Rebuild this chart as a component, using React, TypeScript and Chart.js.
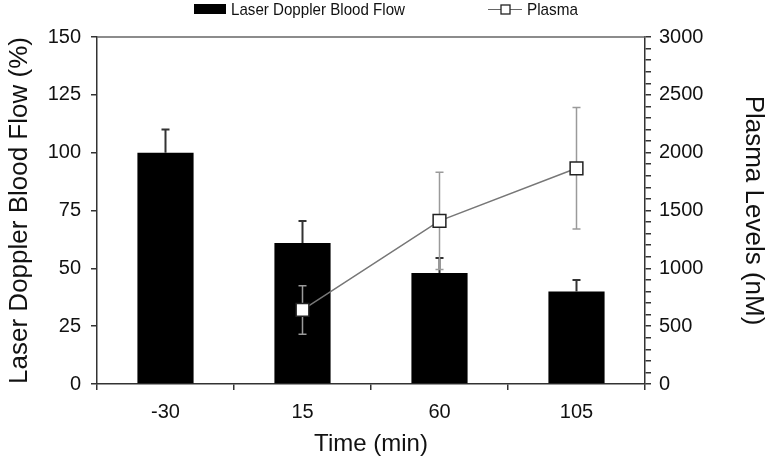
import React, { useEffect, useRef } from "react";
import { Chart, registerables } from "chart.js";

Chart.register(...registerables);

const categories = ["-30", "15", "60", "105"];
const flowValues = [100, 61, 48, 40];
const flowErrors = [10, 9.5, 6.5, 5];
const plasmaValues: (number | null)[] = [null, 640, 1410, 1865];
const plasmaErrors: (number | null)[] = [null, 210, 420, 525];
const flowTickStep = 25;
const plasmaMinorStep = 100;
const plasmaMajorStep = 500;

const FONT = '"Liberation Sans", Arial, sans-serif';

function drawErrors(
  chart: any,
  dsIndex: number,
  scaleId: string,
  vals: (number | null)[],
  errs: (number | null)[],
  both: boolean,
  color: string,
  width: number,
  cap: number
) {
  const ctx = chart.ctx;
  const meta = chart.getDatasetMeta(dsIndex);
  const ys = chart.scales[scaleId];
  ctx.save();
  ctx.strokeStyle = color;
  ctx.lineWidth = width;
  vals.forEach((v, i) => {
    const e = errs[i];
    if (v == null || e == null) return;
    const x = meta.data[i].x;
    const top = ys.getPixelForValue(v + e);
    const bot = both ? ys.getPixelForValue(v - e) : ys.getPixelForValue(v);
    ctx.beginPath();
    ctx.moveTo(x, top);
    ctx.lineTo(x, bot);
    ctx.moveTo(x - cap, top);
    ctx.lineTo(x + cap, top);
    if (both) {
      ctx.moveTo(x - cap, bot);
      ctx.lineTo(x + cap, bot);
    }
    ctx.stroke();
  });
  ctx.restore();
}

const errorBarPlugin = {
  id: "errorBars",
  beforeDatasetDraw(chart: any, args: any) {
    if (args.index !== 1) return;
    drawErrors(chart, 1, "y1", plasmaValues, plasmaErrors, true, "#9a9a9a", 1.5, 4);
  },
  afterDatasetDraw(chart: any, args: any) {
    if (args.index !== 0) return;
    drawErrors(chart, 0, "y", flowValues, flowErrors, false, "#333", 2, 4);
  },
};

function narrowText(ctx: any, text: string, x: number, y: number, targetWidth: number) {
  const w = ctx.measureText(text).width;
  const k = Math.min(1, targetWidth / w);
  ctx.save();
  ctx.translate(x, y);
  ctx.scale(k, 1);
  ctx.fillText(text, 0, 0);
  ctx.restore();
}

const framePlugin = {
  id: "frameAndLegend",
  afterDraw(chart: any) {
    const ctx = chart.ctx;
    const a = chart.chartArea;
    ctx.save();
    // top frame line
    ctx.strokeStyle = "#666";
    ctx.lineWidth = 1.5;
    ctx.beginPath();
    ctx.moveTo(a.left, a.top);
    ctx.lineTo(a.right, a.top);
    ctx.stroke();

    // legend
    ctx.fillStyle = "#000";
    ctx.fillRect(194, 4, 32, 10);
    ctx.font = "17px " + FONT;
    ctx.textBaseline = "middle";
    ctx.textAlign = "left";
    ctx.fillStyle = "#111";
    narrowText(ctx, chart.data.datasets[0].label, 231, 10, 174);

    ctx.strokeStyle = "#666";
    ctx.lineWidth = 1.2;
    ctx.beginPath();
    ctx.moveTo(488, 9.5);
    ctx.lineTo(522, 9.5);
    ctx.stroke();
    ctx.fillStyle = "#fff";
    ctx.fillRect(501, 5, 9, 9);
    ctx.strokeStyle = "#222";
    ctx.lineWidth = 1.3;
    ctx.strokeRect(501, 5, 9, 9);
    ctx.fillStyle = "#111";
    narrowText(ctx, chart.data.datasets[1].label, 527, 10, 51);
    ctx.restore();
  },
};

export default function App() {
  const ref = useRef<HTMLCanvasElement | null>(null);
  useEffect(() => {
    if (!ref.current) return;
    const axisColor = "#333";
    const chart = new Chart(ref.current, {
      type: "bar",
      data: {
        labels: categories,
        datasets: [
          {
            type: "bar",
            label: "Laser Doppler Blood Flow",
            data: flowValues,
            backgroundColor: "#000",
            borderWidth: 0,
            barPercentage: 0.41,
            categoryPercentage: 1,
            yAxisID: "y",
            order: 2,
          } as any,
          {
            type: "line",
            label: "Plasma",
            data: plasmaValues,
            borderColor: "#777",
            borderWidth: 1.5,
            pointStyle: "rect",
            pointRadius: 9,
            pointBackgroundColor: "#fff",
            pointBorderColor: "#222",
            pointBorderWidth: 1.5,
            spanGaps: false,
            yAxisID: "y1",
            order: 1,
          } as any,
        ],
      },
      options: {
        animation: false,
        responsive: false,
        devicePixelRatio: 1,
        layout: { padding: { top: 37, left: 0, right: 0, bottom: 0 } },
        plugins: { legend: { display: false }, tooltip: { enabled: false } },
        scales: {
          x: {
            type: "category",
            offset: true,
            grid: {
              display: true,
              drawOnChartArea: false,
              drawTicks: true,
              tickLength: 6,
              color: axisColor,
              lineWidth: 1.5,
              offset: true,
            },
            border: { color: axisColor, width: 1.5 },
            ticks: { font: { size: 20, family: FONT }, color: "#111", padding: 10 },
            title: {
              display: true,
              text: "Time (min)",
              color: "#111",
              font: { size: 24, family: FONT, lineHeight: 1 },
              padding: { top: 0, bottom: 7 },
            },
            afterFit: (s: any) => {
              s.height = 79;
            },
          },
          y: {
            position: "left",
            min: 0,
            max: 150,
            grid: {
              drawOnChartArea: false,
              tickLength: 6,
              color: axisColor,
              lineWidth: 1.5,
            },
            border: { color: axisColor, width: 1.5 },
            ticks: {
              stepSize: flowTickStep,
              font: { size: 20, family: FONT },
              color: "#111",
              padding: 10,
            },
            title: {
              display: true,
              text: "Laser Doppler Blood Flow (%)",
              color: "#111",
              font: { size: 26, family: FONT, lineHeight: 1 },
              padding: { top: 7, bottom: 0 },
            },
            afterFit: (s: any) => {
              s.width = 97;
            },
          },
          y1: {
            position: "right",
            min: 0,
            max: 3000,
            grid: {
              drawOnChartArea: false,
              tickLength: 6,
              color: axisColor,
              lineWidth: 1.5,
            },
            border: { color: axisColor, width: 1.5 },
            ticks: {
              stepSize: plasmaMinorStep,
              autoSkip: false,
              font: { size: 20, family: FONT },
              color: "#111",
              padding: 8,
              callback: (v: any) => (Number(v) % plasmaMajorStep === 0 ? String(v) : ""),
            },
            title: {
              display: true,
              text: "Plasma Levels (nM)",
              color: "#111",
              font: { size: 26, family: FONT, lineHeight: 1 },
              padding: { top: 0, bottom: 0 },
            },
            afterFit: (s: any) => {
              s.width = 121;
            },
          },
        },
      } as any,
      plugins: [errorBarPlugin, framePlugin],
    });
    return () => chart.destroy();
  }, []);

  return (
    <div style={{ position: "fixed", left: 0, top: 0, width: 766, height: 463, background: "#fff" }}>
      <canvas ref={ref} width={766} height={463} style={{ display: "block" }} />
    </div>
  );
}
